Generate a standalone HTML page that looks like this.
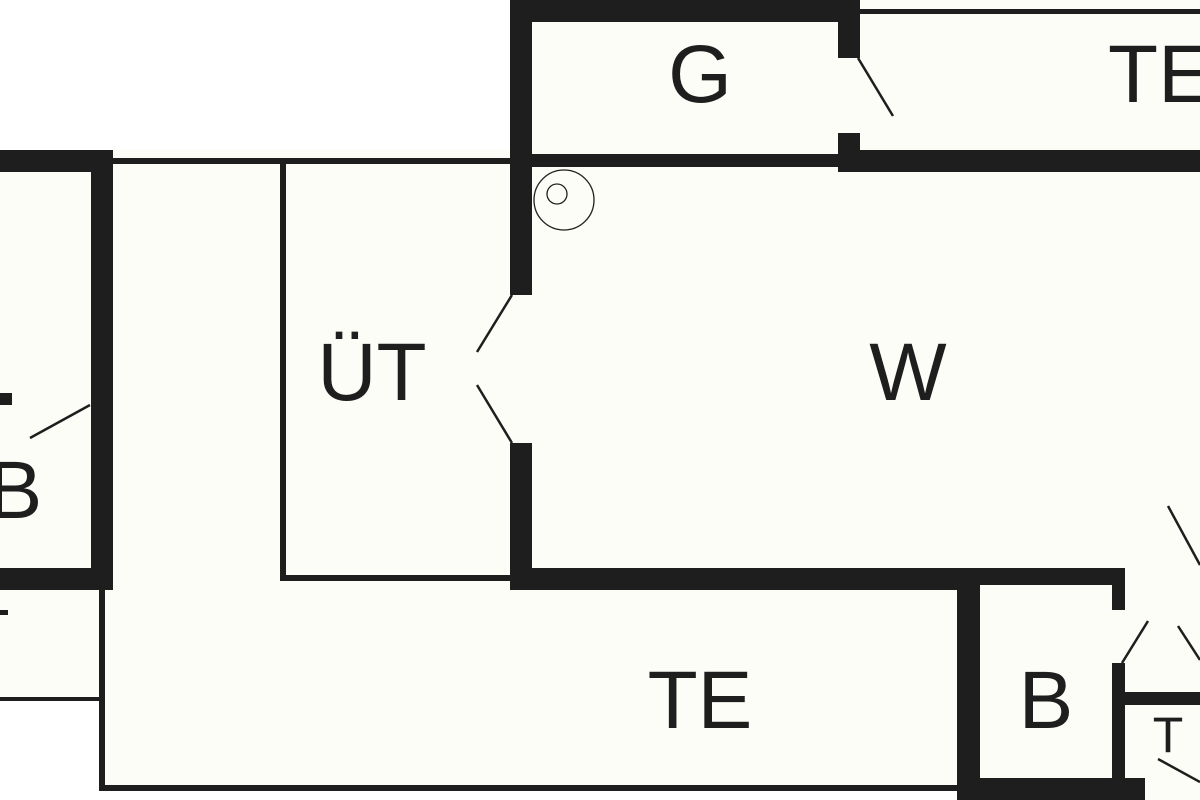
<!DOCTYPE html>
<html><head><meta charset="utf-8"><style>
html,body{margin:0;padding:0;background:#fff;}
svg{display:block;}
text{font-family:"Liberation Sans",sans-serif;fill:#1e1e1e;}
</style></head><body>
<svg width="1200" height="800" viewBox="0 0 1200 800" xmlns="http://www.w3.org/2000/svg">
<rect width="1200" height="800" fill="#fff"/>
<g fill="#fdfdf8">
<rect x="510" y="0" width="690" height="800"/>
<rect x="0" y="150" width="510" height="650"/>
</g>
<rect x="0" y="0" width="510" height="150" fill="#fff"/>
<rect x="0" y="790" width="960" height="10" fill="#fff"/>
<rect x="0" y="700" width="100" height="100" fill="#fff"/>
<g fill="#1e1e1e">
<rect x="510" y="0" width="350" height="22"/>
<rect x="510" y="0" width="22" height="295"/>
<rect x="510" y="443" width="22" height="147"/>
<rect x="838" y="0" width="22" height="58"/>
<rect x="838" y="133" width="22" height="39"/>
<rect x="532" y="154" width="310" height="13"/>
<rect x="838" y="150" width="362" height="22"/>
<rect x="860" y="9" width="340" height="5"/>
<rect x="510" y="568" width="470" height="22"/>
<rect x="957" y="568" width="168" height="17"/>
<rect x="957" y="568" width="23" height="232"/>
<rect x="1112" y="568" width="13" height="42"/>
<rect x="1112" y="663" width="13" height="137"/>
<rect x="957" y="778" width="188" height="22"/>
<rect x="1125" y="692" width="75" height="13"/>
<rect x="113" y="158" width="397" height="6"/>
<rect x="280" y="160" width="6" height="421"/>
<rect x="280" y="575" width="232" height="6"/>
<rect x="0" y="150" width="113" height="22"/>
<rect x="91" y="150" width="22" height="440"/>
<rect x="0" y="568" width="113" height="22"/>
<rect x="0" y="393" width="12" height="12"/>
<rect x="0" y="610" width="8" height="5"/>
<rect x="99" y="590" width="6" height="201"/>
<rect x="0" y="697" width="102" height="4"/>
<rect x="99" y="785" width="861" height="6"/>
</g>
<g stroke="#1e1e1e" stroke-width="2.5" fill="none">
<line x1="858" y1="58" x2="893" y2="116"/>
<line x1="512" y1="295" x2="477" y2="352"/>
<line x1="477" y1="385" x2="512" y2="443"/>
<line x1="1122" y1="663" x2="1148" y2="621"/>
<line x1="1178" y1="626" x2="1200" y2="660"/>
<line x1="1168" y1="506" x2="1200" y2="565"/>
<line x1="1158" y1="759" x2="1200" y2="782"/>
<line x1="30" y1="438" x2="90" y2="405"/>
</g>
<g stroke="#1e1e1e" stroke-width="1.3" fill="none">
<circle cx="564" cy="200" r="30"/>
<circle cx="557" cy="194" r="10"/>
</g>
<g font-size="82">
<text x="700" y="102" text-anchor="middle">G</text>
<text x="1108" y="102">TE</text>
<text x="372" y="400" text-anchor="middle">ÜT</text>
<text x="908" y="400" text-anchor="middle">W</text>
<text x="700" y="728" text-anchor="middle">TE</text>
<text x="1046" y="728" text-anchor="middle">B</text>
<text x="15" y="518" text-anchor="middle">B</text>
</g>
<text x="1168" y="752" font-size="50" text-anchor="middle">T</text>
</svg>
</body></html>
